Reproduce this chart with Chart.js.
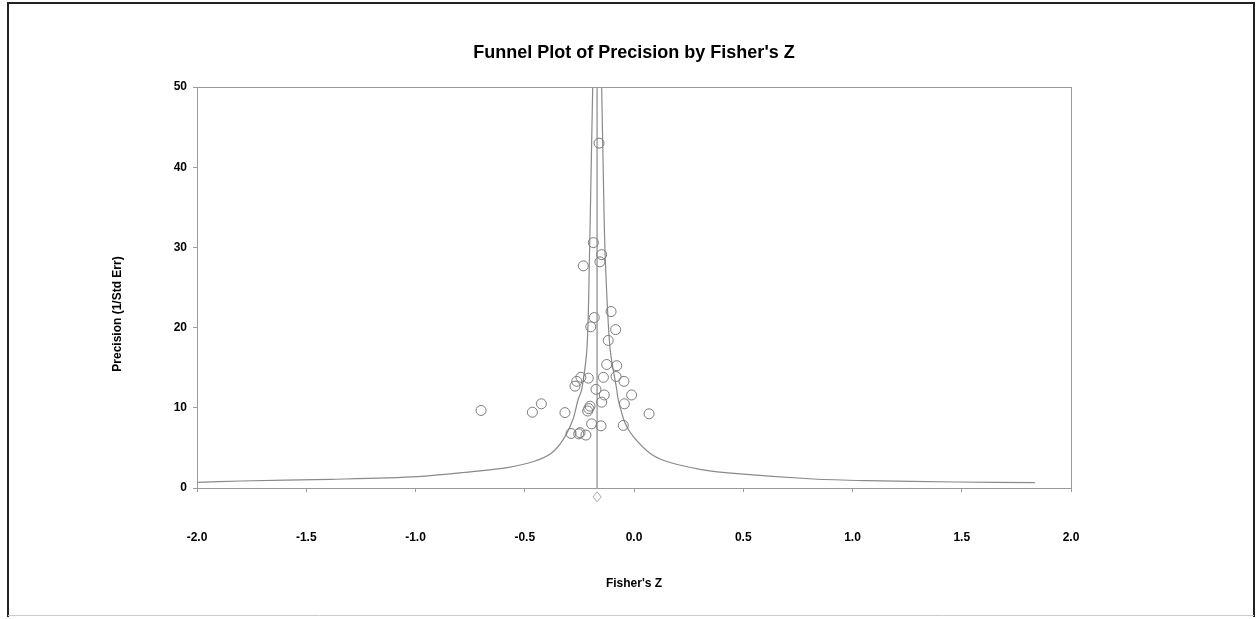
<!DOCTYPE html>
<html>
<head>
<meta charset="utf-8">
<script src="https://cdn.jsdelivr.net/npm/chart.js@4/dist/chart.umd.min.js"></script>
<style>
  html, body { margin: 0; padding: 0; background: #fff; }
  #wrap { width: 1257px; height: 619px; position: relative; }
</style>
</head>
<body>
<div id="wrap"><canvas id="funnelChart" width="1257" height="619"></canvas></div>
<script>
// Studies: Fisher's Z and precision (1/SE)
const studyZ = [-0.160, -0.186, -0.232, -0.148, -0.156, -0.105, -0.182, -0.198, -0.084, -0.118,
  -0.125, -0.079, -0.140, -0.082, -0.046, -0.243, -0.209, -0.262, -0.270, -0.174,
  -0.136, -0.011, -0.148, -0.044, -0.201, -0.207, -0.212, -0.424, -0.465, -0.316,
  0.069, -0.700, -0.194, -0.151, -0.049, -0.288, -0.247, -0.253, -0.220];
const studyPrecision = [43.0, 30.6, 27.7, 29.1, 28.2, 22.0, 21.25, 20.1, 19.75, 18.4,
  15.4, 15.25, 13.8, 13.9, 13.3, 13.8, 13.7, 13.3, 12.7, 12.3,
  11.6, 11.6, 10.7, 10.5, 10.2, 9.9, 9.6, 10.5, 9.45, 9.4,
  9.25, 9.67, 8.0, 7.75, 7.8, 6.8, 6.9, 6.75, 6.6];

// Funnel limits
const leftLimitZ = [-2.0, -1.80, -1.39, -0.99, -0.74, -0.58, -0.46, -0.38, -0.325, -0.28, -0.256, -0.239, -0.215, -0.204, -0.197, -0.189];
const leftLimitP = [0.7, 0.87, 1.08, 1.42, 2.04, 2.54, 3.3, 4.3, 6.0, 8.5, 11, 12.3, 17.5, 28.5, 38.5, 50];
const rightLimitZ = [1.835, 1.477, 1.065, 0.821, 0.485, 0.302, 0.150, 0.073, -0.003, -0.041, -0.072, -0.079, -0.110, -0.132, -0.140, -0.148];
const rightLimitP = [0.67, 0.75, 0.92, 1.12, 1.75, 2.33, 3.3, 4.33, 6.4, 8.1, 11, 12.25, 17.5, 29, 38.5, 50];

// Combined effect
const meanZ = -0.169;
const meanLineP = [0, 50];
const summaryP = -1.1;

// Axis settings
const xTicks = [-2.0, -1.5, -1.0, -0.5, 0.0, 0.5, 1.0, 1.5, 2.0];
const yTicks = [0, 10, 20, 30, 40, 50];

const toPts = (xs, ys) => xs.map((x, i) => ({ x: x, y: ys[i] }));

const grey = "#9a9a9a";
const font = "'Liberation Sans', Arial, sans-serif";

const decor = {
  id: "decor",
  beforeDraw(chart) {
    const c = chart.ctx;
    c.save();
    c.fillStyle = "#fff";
    c.fillRect(0, 0, chart.width, chart.height);
    c.restore();
  },
  afterDraw(chart) {
    const c = chart.ctx;
    const a = chart.chartArea;
    c.save();
    // plot frame
    c.strokeStyle = grey;
    c.lineWidth = 1;
    c.strokeRect(a.left + 0.5, a.top + 0.5, a.right - a.left, a.bottom - a.top);
    // summary diamond sits just below the axis, outside the chart area
    const dx = chart.scales.x.getPixelForValue(meanZ);
    const dy = chart.scales.y.getPixelForValue(summaryP);
    c.strokeStyle = "#aaa";
    c.beginPath();
    c.moveTo(dx, dy - 5); c.lineTo(dx + 4, dy); c.lineTo(dx, dy + 5); c.lineTo(dx - 4, dy);
    c.closePath();
    c.stroke();
    // outer frame
    c.strokeStyle = "#222";
    c.lineWidth = 2;
    c.beginPath();
    c.moveTo(8, 617); c.lineTo(8, 3); c.lineTo(1254, 3); c.lineTo(1254, 617);
    c.stroke();
    c.strokeStyle = "#ccc";
    c.lineWidth = 1;
    c.beginPath();
    c.moveTo(8, 615.5); c.lineTo(1254, 615.5);
    c.stroke();
    // titles
    c.fillStyle = "#000";
    c.textAlign = "center";
    c.textBaseline = "middle";
    c.font = "bold 18px " + font;
    c.fillText("Funnel Plot of Precision by Fisher's Z", 634, 53);
    c.font = "bold 12px " + font;
    c.fillText("Fisher's Z", 634, 584);
    c.translate(118, 314);
    c.rotate(-Math.PI / 2);
    c.fillText("Precision (1/Std Err)", 0, 0);
    c.restore();
  }
};

new Chart(document.getElementById("funnelChart"), {
  type: "scatter",
  data: {
    datasets: [
      {
        label: "Studies",
        data: toPts(studyZ, studyPrecision),
        pointStyle: "circle",
        pointRadius: 5,
        backgroundColor: "rgba(0,0,0,0)",
        borderColor: "#7c7c7c",
        borderWidth: 1
      },
      {
        label: "Lower limit",
        data: toPts(leftLimitZ, leftLimitP),
        showLine: true,
        pointRadius: 0,
        borderColor: "#8a8a8a",
        borderWidth: 1.2,
        tension: 0.3
      },
      {
        label: "Upper limit",
        data: toPts(rightLimitZ, rightLimitP),
        showLine: true,
        pointRadius: 0,
        borderColor: "#8a8a8a",
        borderWidth: 1.2,
        tension: 0.3
      },
      {
        label: "Combined",
        data: toPts([meanZ, meanZ], meanLineP),
        showLine: true,
        pointRadius: 0,
        borderColor: "#8a8a8a",
        borderWidth: 1.2
      }
    ]
  },
  options: {
    responsive: false,
    animation: false,
    layout: { padding: { left: 0, top: 87, right: 186, bottom: 0 } },
    plugins: {
      legend: { display: false },
      tooltip: { enabled: false },
      title: { display: false }
    },
    scales: {
      x: {
        type: "linear",
        min: -2,
        max: 2,
        afterFit: (s) => { s.height = 131; },
        afterBuildTicks: (s) => { s.ticks = xTicks.map(v => ({ value: v })); },
        grid: { drawOnChartArea: false, drawTicks: true, tickLength: 4, color: grey },
        border: { display: true, color: grey },
        ticks: {
          padding: 38,
          color: "#000",
          font: { family: font, size: 12, weight: "bold" },
          callback: (v) => Number(v).toFixed(1)
        }
      },
      y: {
        type: "linear",
        min: 0,
        max: 50,
        afterFit: (s) => { s.width = 197; },
        afterBuildTicks: (s) => { s.ticks = yTicks.map(v => ({ value: v })); },
        grid: { drawOnChartArea: false, drawTicks: true, tickLength: 4, color: grey },
        border: { display: true, color: grey },
        ticks: {
          padding: 6,
          color: "#000",
          font: { family: font, size: 12, weight: "bold" }
        }
      }
    }
  },
  plugins: [decor]
});
</script>
</body>
</html>
